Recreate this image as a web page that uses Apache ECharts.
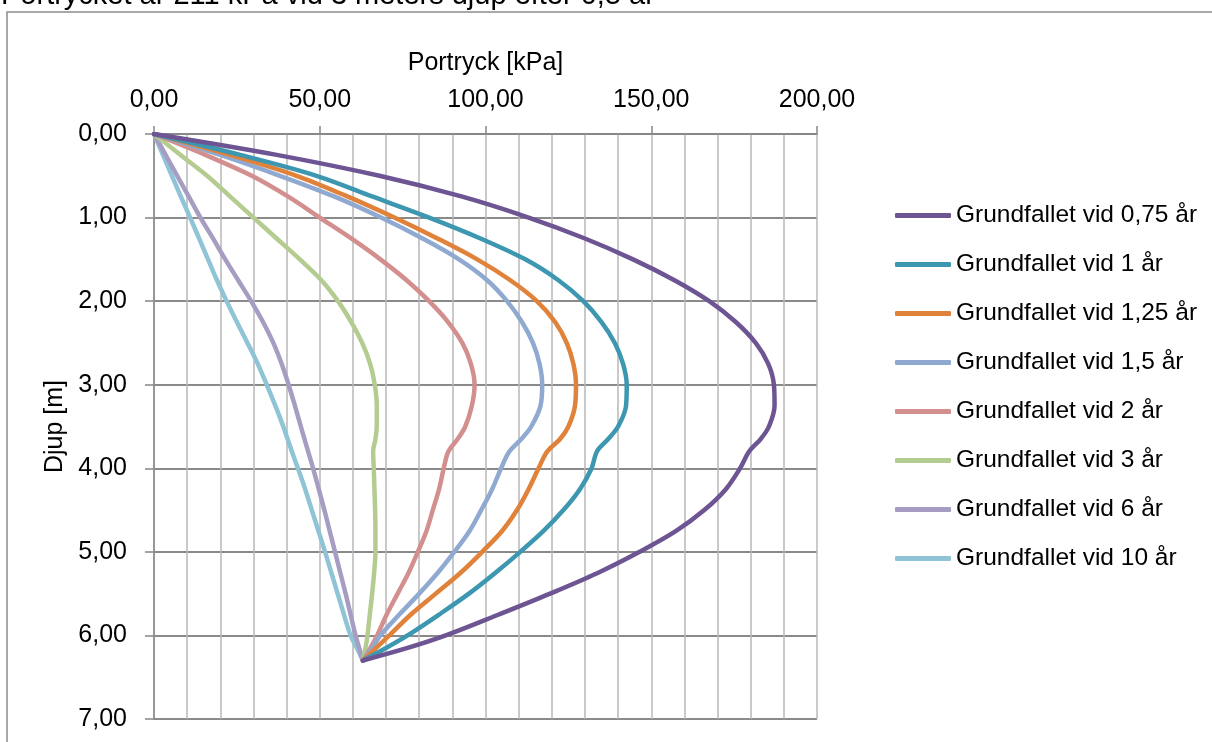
<!DOCTYPE html>
<html>
<head>
<meta charset="utf-8">
<title>Portryck</title>
<script src="https://cdn.jsdelivr.net/npm/echarts@6/dist/echarts.min.js"></script>
<style>
  html, body { margin: 0; padding: 0; background: #ffffff; }
  #chart { width: 1212px; height: 742px; }
</style>
</head>
<body>
<div id="chart"></div>
<script>
// Djup [m] where the pore pressure profiles are sampled
const depths = [0, 0.25, 0.5, 0.75, 1.0, 1.25, 1.5, 1.75, 2.0, 2.25, 2.5, 2.75, 3.0, 3.25, 3.5, 3.65, 3.8, 4.0, 4.25, 4.5, 4.75, 5.0, 5.25, 5.5, 5.75, 6.0, 6.15, 6.3];

// Portryck [kPa] for each case, one value per depth above
const p075 = [0, 37, 68, 93, 113, 130, 144.5, 157, 167.5, 175.5, 181.5, 185.3, 187, 187.2, 185.5, 183, 179.5, 176.8, 172.5, 166, 157.5, 146.5, 134, 119.5, 104, 88, 76.5, 63];
const p1   = [0, 26, 49, 66, 83, 98.5, 112, 122, 129.5, 135, 139, 141.5, 142.6, 142.4, 140, 137, 133.6, 132, 128.5, 123.5, 117.5, 110.5, 103, 95, 86, 76.5, 70, 63];
const p125 = [0, 23, 43, 58.5, 72.5, 85.5, 97.5, 107.5, 115.5, 121, 124.5, 126.5, 127.3, 127, 125, 122.5, 118.6, 116, 113, 109.5, 105, 99, 92.5, 85, 77.5, 71, 67, 63];
const p15  = [0, 20, 38, 54.5, 68.5, 81, 92, 100.5, 106.5, 111, 114.3, 116.3, 117.1, 116.6, 113.8, 110.8, 107.2, 104.7, 102, 98.7, 95.2, 90.6, 85.6, 80, 74, 68.3, 65.8, 63];
const p2   = [0, 15.5, 29.5, 40.5, 50, 59.5, 68.3, 76.2, 83, 88.7, 93, 95.6, 96.7, 95.9, 93.9, 91.6, 88.8, 87.4, 86, 84.1, 82.2, 79.6, 76.8, 73.5, 70.2, 67.3, 65.3, 63];
const p3   = [0, 8, 16, 23, 30, 37, 44, 50.5, 55.5, 59.5, 62.8, 65.2, 66.6, 67.2, 67.2, 66.8, 66.1, 66.3, 66.5, 66.7, 66.8, 66.8, 66.4, 65.8, 65.1, 64.4, 63.8, 63];
const p6   = [0, 3.5, 7, 10.5, 14, 17.8, 21.5, 25.4, 29.3, 32.9, 36, 38.5, 40.6, 42.5, 44.3, 45.4, 46.5, 48, 49.7, 51.4, 53, 54.6, 56.2, 57.8, 59.3, 60.8, 61.9, 63];
const p10  = [0, 2.7, 5.4, 8.1, 10.9, 13.6, 16.3, 19, 21.9, 25, 28.2, 31.3, 34, 36.6, 39, 40.3, 41.6, 43.4, 45.6, 47.6, 49.6, 51.6, 53.5, 55.4, 57.3, 59.3, 61.2, 63];

const seriesNames = [
  'Grundfallet vid 0,75 år',
  'Grundfallet vid 1 år',
  'Grundfallet vid 1,25 år',
  'Grundfallet vid 1,5 år',
  'Grundfallet vid 2 år',
  'Grundfallet vid 3 år',
  'Grundfallet vid 6 år',
  'Grundfallet vid 10 år'
];
const seriesValues = [p075, p1, p125, p15, p2, p3, p6, p10];
const seriesColors = ['#6c5592', '#3d97b0', '#e0823a', '#90a9d0', '#d38f8e', '#b5cc91', '#a79dc3', '#8fc4d6'];

const xTicks = { min: 0, max: 200, step: 50 };
const yTicks = { min: 0, max: 7, step: 1 };

const FONT = 'Liberation Sans, Arial, sans-serif';
const FS = 25;
const fmt = v => v.toFixed(2).replace('.', ',');

const chart = echarts.init(document.getElementById('chart'), null, { renderer: 'canvas' });

chart.setOption({
  animation: false,
  backgroundColor: '#ffffff',
  textStyle: { fontFamily: FONT, color: '#000000' },
  graphic: [
    {
      type: 'rect',
      shape: { x: 7, y: 12, width: 1220, height: 740 },
      style: { fill: 'none', stroke: '#8c8c8c', lineWidth: 1.5 },
      silent: true
    },
    {
      type: 'text',
      x: 1,
      y: 10,
      style: {
        text: 'Portrycket är 211 kPa vid 3 meters djup efter 0,5 år',
        font: '29px ' + FONT,
        fill: '#000000',
        textVerticalAlign: 'bottom'
      },
      silent: true
    }
  ],
  grid: { left: 154, top: 134, right: 395, bottom: 23, containLabel: false },
  legend: {
    orient: 'vertical',
    left: 890,
    top: 198,
    icon: 'roundRect',
    itemWidth: 56,
    itemHeight: 5,
    itemGap: 24,
    textStyle: { fontSize: 24.5, lineHeight: 24, fontFamily: FONT, color: '#000000' },
    data: seriesNames
  },
  xAxis: {
    type: 'value',
    position: 'top',
    min: xTicks.min,
    max: xTicks.max,
    interval: xTicks.step,
    name: 'Portryck [kPa]',
    nameLocation: 'middle',
    nameGap: 58,
    nameTextStyle: { fontSize: FS, fontFamily: FONT, color: '#000000' },
    axisLine: { show: true, lineStyle: { color: '#868686', width: 1.5 } },
    axisTick: { show: true, inside: false, length: 8, lineStyle: { color: '#868686', width: 1.5 } },
    axisLabel: { fontSize: FS, margin: 21, color: '#000000', fontFamily: FONT, formatter: fmt },
    splitLine: { show: true, lineStyle: { color: '#b8b8b8', width: 1.5 } },
    minorTick: { show: false, splitNumber: 5 },
    minorSplitLine: { show: true, lineStyle: { color: '#b8b8b8', width: 1.5 } }
  },
  yAxis: {
    type: 'value',
    inverse: true,
    min: yTicks.min,
    max: yTicks.max,
    interval: yTicks.step,
    name: 'Djup [m]',
    nameLocation: 'middle',
    nameGap: 86,
    nameTextStyle: { fontSize: FS, fontFamily: FONT, color: '#000000' },
    axisLine: { show: true, lineStyle: { color: '#868686', width: 1.5 } },
    axisTick: { show: true, inside: false, length: 9, lineStyle: { color: '#868686', width: 1.5 } },
    axisLabel: { fontSize: FS, margin: 27, color: '#000000', fontFamily: FONT, formatter: fmt },
    splitLine: { show: true, lineStyle: { color: '#8a8a8a', width: 2 } }
  },
  series: seriesNames.map((name, k) => ({
    name: name,
    type: 'line',
    data: depths.map((d, i) => [seriesValues[k][i], d]),
    showSymbol: false,
    symbol: 'none',
    smooth: 0.35,
    color: seriesColors[k],
    lineStyle: { width: 4.5, color: seriesColors[k], cap: 'round', join: 'round' },
    z: 10 - k
  }))
});
</script>
</body>
</html>
